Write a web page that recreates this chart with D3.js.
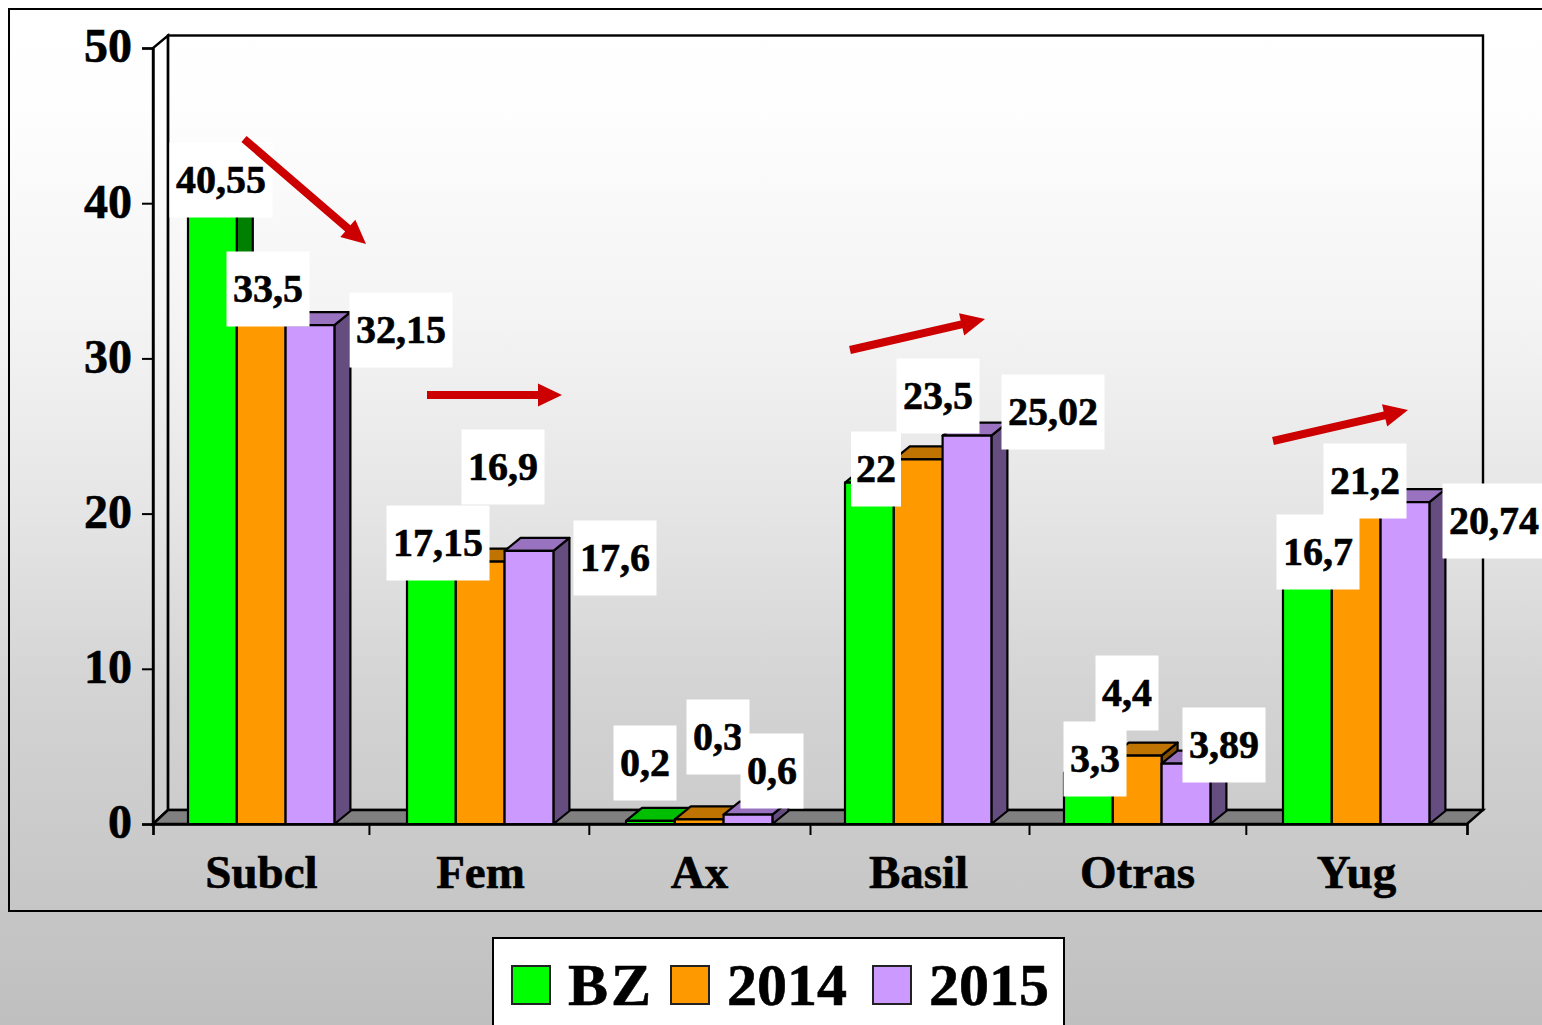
<!DOCTYPE html>
<html><head><meta charset="utf-8">
<script src="https://cdn.jsdelivr.net/npm/d3@7"></script>
<style>
html,body{margin:0;padding:0;background:#c0c0c0;overflow:hidden}
svg{display:block}
text{font-family:"Liberation Serif","Times New Roman",serif;font-weight:bold;fill:#000;stroke:#000;stroke-width:.6px}
</style></head><body><svg id="c" width="1542" height="1025"></svg>
<script>
const categories = ["Subcl","Fem","Ax","Basil","Otras","Yug"];
const seriesNames = ["BZ","2014","2015"];
const bz = [40.55,17.15,0.2,22,3.3,16.7];
const y2014 = [33.5,16.9,0.3,23.5,4.4,21.2];
const y2015 = [32.15,17.6,0.6,25.02,3.89,20.74];
const yTicks = [0,10,20,30,40,50];

// presentation only
const fronts = ["#00ff00","#ff9900","#cc99ff"];
const tops   = ["#00bf00","#bf7300","#9973bf"];
const sides  = ["#008000","#804d00","#664d80"];
const labelBoxes = [
 [[221,180],[438,543],[645,763],[876,469],[1095,759],[1318,552]],
 [[268,289],[503,467],[718,737],[938,396],[1127,693],[1365,481]],
 [[401,330],[615,558],[772,771],[1053,412],[1224,745],[1494,521]]
];
const arrowsPx = [[244,139,366,244],[427,395,562,395],[850,350,985,319],[1273,441,1408,410]];
const edgeTicks = [0,0.986,1.99,3,4,4.99,6];

const W=1542,H=1025, x0=153, x1=1467, yB=824, yT=48, dx=15, dy=-14, topDy=-12.5, bdx=16, bdy=-13, barW=48.8, barInset=35;
const svg=d3.select("#c");
const defs=svg.append("defs");
const g=defs.append("linearGradient").attr("id","bg").attr("x1",0).attr("y1",0).attr("x2",0).attr("y2",1);
[[0,"#ffffff"],[0.1,"#fefefe"],[0.32,"#f3f3f3"],[0.5,"#e5e5e5"],[0.68,"#d3d3d3"],[1,"#bfbfbf"]]
  .forEach(s=>g.append("stop").attr("offset",s[0]).attr("stop-color",s[1]));
svg.append("rect").attr("width",W).attr("height",H).attr("fill","url(#bg)");
svg.append("rect").attr("x",9).attr("y",9).attr("width",W+20).attr("height",902)
  .attr("fill","none").attr("stroke","#000").attr("stroke-width",2);

const x=d3.scaleBand().domain(categories).range([x0,x1]);
const xEdges=d3.scaleLinear().domain([0,categories.length]).range([x0,x1]);
const y=d3.scaleLinear().domain([0,50]).range([yB,yT]);
const poly=p=>p.map(q=>q.join(",")).join(" ");

// walls and floor
svg.append("polygon").attr("points",poly([[x0,yB],[x0,y(50)],[x0+dx,y(50)+topDy],[x0+dx,yB+dy]])).attr("fill","none").attr("stroke","#000").attr("stroke-width",2.4);
svg.append("rect").attr("x",x0+dx).attr("y",y(50)+topDy).attr("width",x1-x0+1).attr("height",yB+dy-y(50)-topDy).attr("fill","none").attr("stroke","#000").attr("stroke-width",2.4);
svg.append("polygon").attr("points",poly([[x0,yB],[x0+dx,yB+dy],[x1+dx+1,yB+dy],[x1,yB]])).attr("fill","#808080").attr("stroke","#000").attr("stroke-width",2.4);

// axes
const ya=svg.append("g").attr("transform",`translate(${x0},0)`).call(d3.axisLeft(y).tickValues(yTicks).tickSize(11).tickPadding(10));
ya.selectAll("text").style("font-size","48px").attr("dy","0.29em");
const xt=svg.append("g").attr("transform",`translate(0,${yB})`).call(d3.axisBottom(xEdges).tickValues(edgeTicks).tickSize(11).tickFormat(""));
const xl=svg.append("g").attr("transform",`translate(-1,${yB})`).call(d3.axisBottom(x).tickSize(0).tickPadding(31));
xl.selectAll("text").attr("dy","0.71em").style("font-size","47px");
xl.select(".domain").remove();
svg.selectAll(".domain").attr("stroke","#000").attr("stroke-width",2.4);
svg.selectAll(".tick line").attr("stroke","#000").attr("stroke-width",2);

// bars
const series=[bz,y2014,y2015];
categories.forEach((c,ci)=>{
  series.forEach((vals,si)=>{
    const l=x(c)+barInset+si*barW, r=l+barW, t=y(vals[ci]);
    const b=svg.append("g").attr("stroke","#000").attr("stroke-width",2.2).attr("stroke-linejoin","round");
    b.append("polygon").attr("points",poly([[r,t],[r+bdx,t+bdy],[r+bdx,yB+bdy],[r,yB]])).attr("fill",sides[si]);
    b.append("polygon").attr("points",poly([[l,t],[l+bdx,t+bdy],[r+bdx,t+bdy],[r,t]])).attr("fill",tops[si]);
    b.append("rect").attr("x",l).attr("y",t).attr("width",barW).attr("height",yB-t).attr("fill",fronts[si]);
  });
});

// data labels
const fmt=v=>String(v).replace(".",",");
series.forEach((vals,si)=>{
  vals.forEach((v,ci)=>{
    const [cx,cy]=labelBoxes[si][ci];
    const lg=svg.append("g");
    const t=lg.append("text").attr("x",cx).attr("y",cy+13).attr("text-anchor","middle").style("font-size","40px").text(fmt(v));
    const w=t.node().getComputedTextLength()+ (fmt(v).length>2?13:10);
    lg.insert("rect","text").attr("x",cx-w/2).attr("y",cy-37.5).attr("width",w).attr("height",75).attr("fill","#fff");
  });
});

// arrows (on top of the labels)
arrowsPx.forEach(a=>{
  const [ax,ay,bx,by]=a, ang=Math.atan2(by-ay,bx-ax), L=Math.hypot(bx-ax,by-ay);
  const ag=svg.append("g").attr("transform",`translate(${ax},${ay}) rotate(${ang*180/Math.PI})`);
  ag.append("polygon").attr("points",poly([[0,-4],[L-24,-4],[L-24,-11.5],[L,0],[L-24,11.5],[L-24,4],[0,4]])).attr("fill","#cc0000");
});

// legend
svg.append("rect").attr("x",493).attr("y",938).attr("width",571).attr("height",110).attr("fill","#fff").attr("stroke","#000").attr("stroke-width",2);
const swX=[512,671,873], txtX=[568,727,929], spacing=[3,0,0];
seriesNames.forEach((n,i)=>{
  svg.append("rect").attr("x",swX[i]).attr("y",966).attr("width",38).attr("height",38).attr("fill",fronts[i]).attr("stroke","#222").attr("stroke-width",2);
  svg.append("text").attr("x",txtX[i]).attr("y",1005).style("font-size","60px").style("letter-spacing",spacing[i]+"px").text(n);
});
</script></body></html>
